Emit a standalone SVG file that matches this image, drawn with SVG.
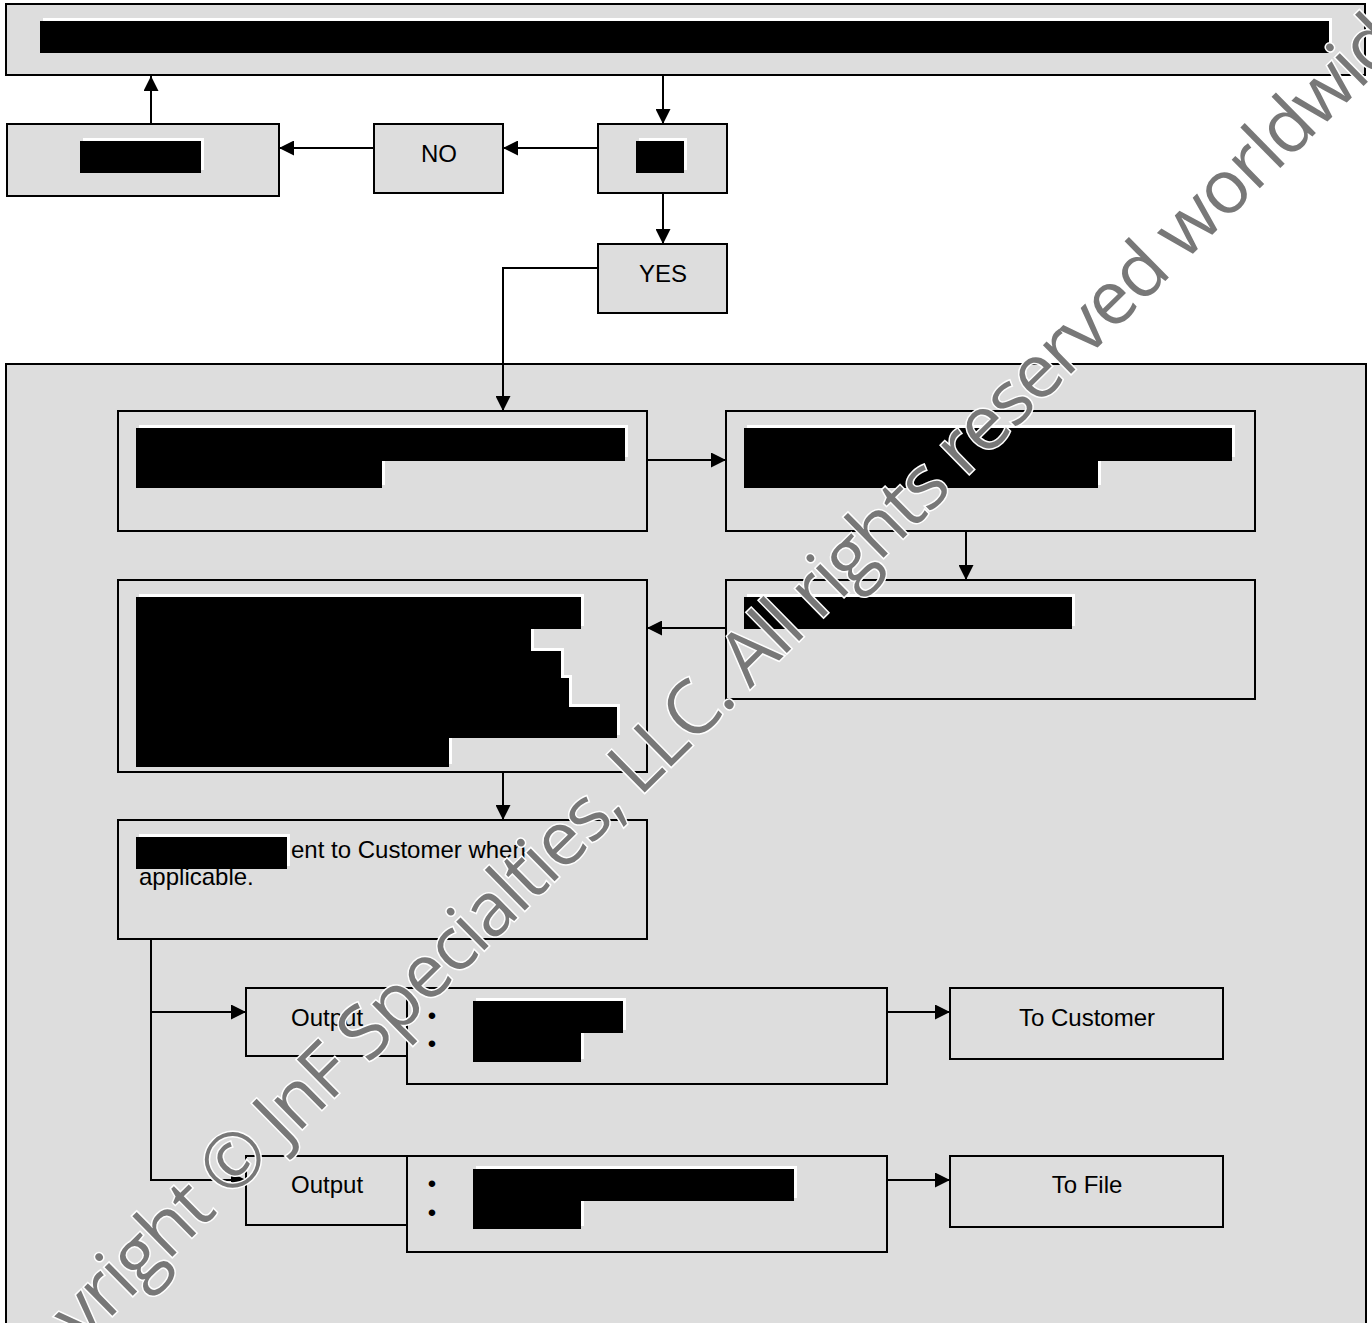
<svg xmlns="http://www.w3.org/2000/svg" width="1372" height="1323" viewBox="0 0 1372 1323">
<defs>
<marker id="ah" markerUnits="userSpaceOnUse" markerWidth="15" markerHeight="15" refX="15" refY="7.5" orient="auto">
<path d="M0,0 L15,7.5 L0,15 z" fill="#000"/>
</marker>
<style>
.box{fill:#dddddd;stroke:#000;stroke-width:2}
.rb{fill:#000}
.rw{fill:#fff}
.t{font-family:"Liberation Sans",Arial,sans-serif;font-size:24px;fill:#000}
.c{text-anchor:middle}
.ln{fill:none;stroke:#000;stroke-width:2}
.wm{font-family:"Open Sans","Noto Sans",sans-serif;font-size:75px;letter-spacing:-2px;fill:#787878;stroke:#fff;stroke-width:3;paint-order:stroke}
</style>
</defs>
<rect width="1372" height="1323" fill="#fff"/>

<g id="container">
<rect class="box" x="6" y="364" width="1360" height="980"/>
</g>

<g id="top-bar">
<rect class="box" x="6" y="4" width="1359" height="71"/>
<rect class="rw" x="43" y="18" width="1289" height="32"/>
<rect class="rb" x="40" y="21" width="1289" height="32"/>
</g>

<g id="box-a">
<rect class="box" x="7" y="124" width="272" height="72"/>
<rect class="rw" x="83" y="138" width="121" height="32"/>
<rect class="rb" x="80" y="141" width="121" height="32"/>
</g>

<g id="no">
<rect class="box" x="374" y="124" width="129" height="69"/>
<text class="t c" x="439" y="162">NO</text>
</g>

<g id="decision">
<rect class="box" x="598" y="124" width="129" height="69"/>
<rect class="rw" x="639" y="138" width="48" height="32"/>
<rect class="rb" x="636" y="141" width="48" height="32"/>
</g>

<g id="yes">
<rect class="box" x="598" y="244" width="129" height="69"/>
<text class="t c" x="663" y="282">YES</text>
</g>

<g id="box-b">
<rect class="box" x="118" y="411" width="529" height="120"/>
<rect class="rw" x="139" y="425" width="489" height="32"/>
<rect class="rw" x="139" y="457" width="246" height="28"/>
<rect class="rb" x="136" y="428" width="489" height="33"/>
<rect class="rb" x="136" y="460" width="246" height="28"/>
</g>

<g id="box-c">
<rect class="box" x="726" y="411" width="529" height="120"/>
<rect class="rw" x="747" y="425" width="488" height="32"/>
<rect class="rw" x="747" y="457" width="354" height="28"/>
<rect class="rb" x="744" y="428" width="488" height="33"/>
<rect class="rb" x="744" y="460" width="354" height="28"/>
</g>

<g id="box-d">
<rect class="box" x="726" y="580" width="529" height="119"/>
<rect class="rw" x="747" y="594" width="328" height="32"/>
<rect class="rb" x="744" y="597" width="328" height="32"/>
</g>

<g id="box-e">
<rect class="box" x="118" y="580" width="529" height="192"/>
<path class="rw" transform="translate(3,-3)" d="M136,597 H581 V629 H531 V651 H561 V678 H569 V707 H617 V738 H449 V767 H136 Z"/>
<path class="rb" d="M136,597 H581 V629 H531 V651 H561 V678 H569 V707 H617 V738 H449 V767 H136 Z"/>
</g>

<g id="box-f">
<rect class="box" x="118" y="820" width="529" height="119"/>
<rect class="rw" x="139" y="834" width="151" height="32"/>
<rect class="rb" x="136" y="837" width="151" height="32"/>
<text class="t" x="291" y="858">ent to Customer when</text>
<text class="t" x="139" y="885">applicable.</text>
</g>

<g id="output-1">
<rect class="box" x="246" y="988" width="180" height="68"/>
<text class="t" x="291" y="1026">Output</text>
<rect class="box" x="407" y="988" width="480" height="96"/>
<text class="t c" x="432" y="1024">•</text>
<text class="t c" x="432" y="1052">•</text>
<rect class="rw" x="476" y="998" width="150" height="32"/>
<rect class="rw" x="476" y="1030" width="108" height="29"/>
<rect class="rb" x="473" y="1001" width="150" height="32"/>
<rect class="rb" x="473" y="1033" width="108" height="29"/>
</g>

<g id="output-2">
<rect class="box" x="246" y="1156" width="180" height="69"/>
<text class="t" x="291" y="1193">Output</text>
<rect class="box" x="407" y="1156" width="480" height="96"/>
<text class="t c" x="432" y="1192">•</text>
<text class="t c" x="432" y="1221">•</text>
<rect class="rw" x="476" y="1166" width="321" height="32"/>
<rect class="rw" x="476" y="1198" width="108" height="28"/>
<rect class="rb" x="473" y="1169" width="321" height="32"/>
<rect class="rb" x="473" y="1201" width="108" height="28"/>
</g>

<g id="to-customer">
<rect class="box" x="950" y="988" width="273" height="71"/>
<text class="t c" x="1087" y="1026">To Customer</text>
</g>

<g id="to-file">
<rect class="box" x="950" y="1156" width="273" height="71"/>
<text class="t c" x="1087" y="1193">To File</text>
</g>

<g id="connectors">
<line class="ln" x1="663" y1="75" x2="663" y2="124" marker-end="url(#ah)"/>
<line class="ln" x1="598" y1="148" x2="503" y2="148" marker-end="url(#ah)"/>
<line class="ln" x1="374" y1="148" x2="279" y2="148" marker-end="url(#ah)"/>
<line class="ln" x1="151" y1="124" x2="151" y2="76" marker-end="url(#ah)"/>
<line class="ln" x1="663" y1="193" x2="663" y2="244" marker-end="url(#ah)"/>
<polyline class="ln" points="598,268 503,268 503,411" marker-end="url(#ah)"/>
<line class="ln" x1="647" y1="460" x2="726" y2="460" marker-end="url(#ah)"/>
<line class="ln" x1="966" y1="531" x2="966" y2="580" marker-end="url(#ah)"/>
<line class="ln" x1="726" y1="628" x2="647" y2="628" marker-end="url(#ah)"/>
<line class="ln" x1="503" y1="772" x2="503" y2="820" marker-end="url(#ah)"/>
<line class="ln" x1="151" y1="939" x2="151" y2="1181"/>
<line class="ln" x1="150" y1="1012" x2="246" y2="1012" marker-end="url(#ah)"/>
<line class="ln" x1="150" y1="1180" x2="246" y2="1180" marker-end="url(#ah)"/>
<line class="ln" x1="887" y1="1012" x2="950" y2="1012" marker-end="url(#ah)"/>
<line class="ln" x1="887" y1="1180" x2="950" y2="1180" marker-end="url(#ah)"/>
</g>

<g id="watermark">
<text class="wm" transform="translate(-12,1438) rotate(-44.5)">Copyright © JnF Specialties, LLC. All rights reserved worldwide</text>
</g>
</svg>
